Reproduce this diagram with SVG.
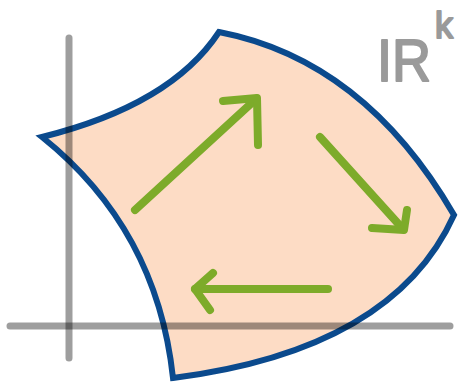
<svg xmlns="http://www.w3.org/2000/svg" width="462" height="387" viewBox="0 0 462 387">
<style>
.region{fill:#fddcc5;stroke:none}
.outline{fill:none;stroke:#0b4a8d;stroke-width:6;stroke-linejoin:miter;stroke-linecap:round}
.arrow{fill:none;stroke:#7dab2a;stroke-width:8;stroke-linecap:round;stroke-linejoin:round}
.axis{fill:none;stroke:#000;stroke-opacity:0.38;stroke-width:7;stroke-linecap:round}
.label{font-family:"Liberation Sans",Arial,sans-serif;fill:#9a9a9a;stroke:#9a9a9a;stroke-width:2;stroke-linejoin:round}
</style>
<rect width="462" height="387" fill="#fff"/>
<g id="region">
<path class="region" d="M42,137 Q171,105 219,32 Q364,60 454,215 Q393,350 173,378 Q157,229 42,137 Z"/>
<path class="outline" d="M42,137 Q171,105 219,32 Q364,60 454,215 Q393,350 173,378 Q157,229 42,137 Z"/>
</g>
<g id="connectors">
<g id="arrow-up">
<path class="arrow" d="M135,210 L256,99"/>
<path class="arrow" d="M223,101 L257,98 L258,145"/>
</g>
<g id="arrow-down">
<path class="arrow" d="M320,137 L403,229"/>
<path class="arrow" d="M372,228 L404,230 L407,210"/>
</g>
<g id="arrow-left">
<path class="arrow" d="M328,289 L195,289"/>
<path class="arrow" d="M213,273 L195,289 L210,310"/>
</g>
</g>
<g id="axes">
<path class="axis" d="M69,38 L69,358"/>
<path class="axis" d="M10,326 L450,326"/>
</g>
<g id="label">
<text class="label" x="377" y="81" font-size="60" textLength="54" lengthAdjust="spacingAndGlyphs">IR</text>
<text class="label" x="435" y="38" font-size="36">k</text>
</g>
</svg>
